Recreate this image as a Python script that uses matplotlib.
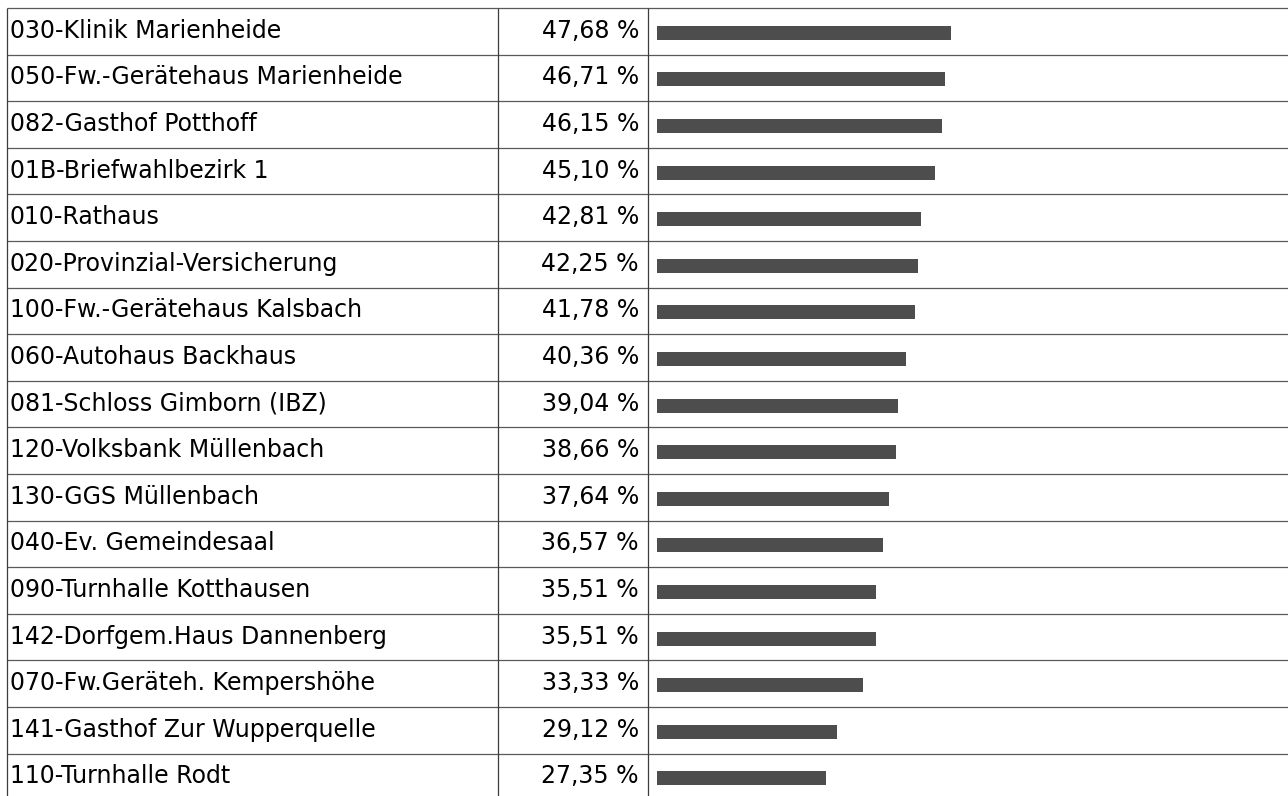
import matplotlib
matplotlib.use("Agg")
import matplotlib.pyplot as plt

plt.rcParams['font.family'] = ['DejaVu Sans']

# Stimmbezirke mit Anteil in Prozent
bezirke = [
    "030-Klinik Marienheide",
    "050-Fw.-Gerätehaus Marienheide",
    "082-Gasthof Potthoff",
    "01B-Briefwahlbezirk 1",
    "010-Rathaus",
    "020-Provinzial-Versicherung",
    "100-Fw.-Gerätehaus Kalsbach",
    "060-Autohaus Backhaus",
    "081-Schloss Gimborn (IBZ)",
    "120-Volksbank Müllenbach",
    "130-GGS Müllenbach",
    "040-Ev. Gemeindesaal",
    "090-Turnhalle Kotthausen",
    "142-Dorfgem.Haus Dannenberg",
    "070-Fw.Geräteh. Kempershöhe",
    "141-Gasthof Zur Wupperquelle",
    "110-Turnhalle Rodt",
]
anteile = [47.68, 46.71, 46.15, 45.10, 42.81, 42.25, 41.78, 40.36, 39.04,
           38.66, 37.64, 36.57, 35.51, 35.51, 33.33, 29.12, 27.35]

W, H = 1288, 796
top = 8
row_h = 46.6
x_left, x_col2, x_col3 = 7, 498, 648
bar_x0 = 657
px_per_pct = 6.17
n = len(bezirke)

fig = plt.figure(figsize=(W / 100, H / 100), dpi=100)
fig.patch.set_facecolor("white")

# Tabellenraster in Pixelkoordinaten
tab = fig.add_axes([0, 0, 1, 1])
tab.set_xlim(0, W)
tab.set_ylim(H, 0)
tab.axis("off")

for k in range(n):
    y = top + k * row_h
    tab.plot([x_left, W], [y, y], color="#5a5a5a", lw=0.9, solid_capstyle="butt")
for x in (x_left, x_col2, x_col3):
    tab.plot([x, x], [top, H], color="#3c3c3c", lw=0.9, solid_capstyle="butt")

for i, (name, val) in enumerate(zip(bezirke, anteile)):
    base = top + i * row_h + 29.8
    tab.text(10, base, name, fontsize=17, va="baseline", ha="left", color="black")
    tab.text(639, base, f"{val:.2f} %".replace(".", ","), fontsize=17,
             va="baseline", ha="right", color="black")

# Balken in der dritten Spalte
bx = fig.add_axes([bar_x0 / W, (H - top - n * row_h) / H,
                   (W - bar_x0) / W, n * row_h / H])
bx.set_xlim(0, (W - bar_x0) / px_per_pct)
bx.set_ylim(n, 0)
bx.axis("off")
bx.patch.set_alpha(0)
pos = [i + 0.5 + 1.5 / row_h for i in range(n)]
bx.barh(pos, anteile, height=14 / row_h, color="#4d4d4d", left=0)

fig.savefig("out.png", dpi=100, facecolor="white")
